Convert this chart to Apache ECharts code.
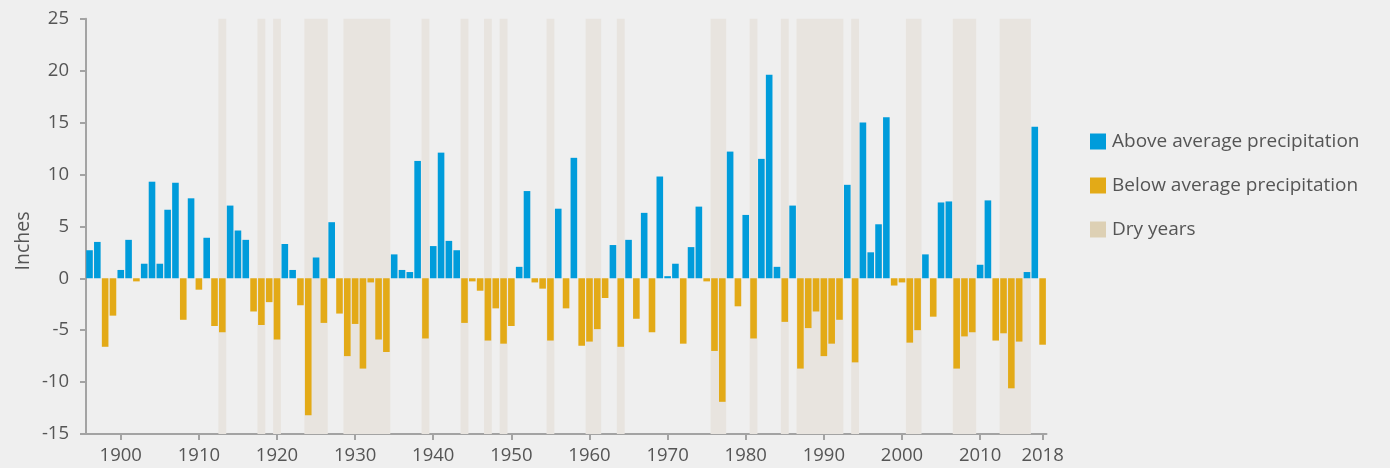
<!DOCTYPE html>
<html>
<head>
<meta charset="utf-8">
<script src="https://cdn.jsdelivr.net/npm/echarts@6/dist/echarts.min.js"></script>
<style>
  html, body { margin: 0; padding: 0; background: #efefef; }
  #chart { width: 1390px; height: 468px; }
</style>
</head>
<body>
<div id="chart"></div>
<script>
// Annual precipitation departure from average, inches, 1896-2018
const firstYear = 1896;
const precip = [
  2.7, 3.5, -6.6, -3.6,                                  // 1896-1899
  0.8, 3.7, -0.3, 1.4, 9.3, 1.4, 6.6, 9.2, -4.0, 7.7,     // 1900s
  -1.1, 3.9, -4.6, -5.2, 7.0, 4.6, 3.7, -3.2, -4.5, -2.3, // 1910s
  -5.9, 3.3, 0.8, -2.6, -13.2, 2.0, -4.3, 5.4, -3.4, -7.5,// 1920s
  -4.4, -8.7, -0.4, -5.9, -7.1, 2.3, 0.8, 0.6, 11.3, -5.8,// 1930s
  3.1, 12.1, 3.6, 2.7, -4.3, -0.3, -1.2, -6.0, -2.9, -6.3,// 1940s
  -4.6, 1.1, 8.4, -0.4, -1.0, -6.0, 6.7, -2.9, 11.6, -6.5,// 1950s
  -6.1, -4.9, -1.9, 3.2, -6.6, 3.7, -3.9, 6.3, -5.2, 9.8, // 1960s
  0.2, 1.4, -6.3, 3.0, 6.9, -0.3, -7.0, -11.9, 12.2, -2.7,// 1970s
  6.1, -5.8, 11.5, 19.6, 1.1, -4.2, 7.0, -8.7, -4.8, -3.2,// 1980s
  -7.5, -6.3, -4.0, 9.0, -8.1, 15.0, 2.5, 5.2, 15.5, -0.7,// 1990s
  -0.4, -6.2, -5.0, 2.3, -3.7, 7.3, 7.4, -8.7, -5.6, -5.2,// 2000s
  1.3, 7.5, -6.0, -5.3, -10.6, -6.1, 0.6, 14.6, -6.4      // 2010s
];

// Years classed as dry
const dryYears = [
  1913, 1918, 1920, 1924, 1925, 1926,
  1929, 1930, 1931, 1932, 1933, 1934,
  1939, 1944, 1947, 1949, 1955, 1960, 1961, 1964,
  1976, 1977, 1981, 1985,
  1987, 1988, 1989, 1990, 1991, 1992, 1994,
  2001, 2002, 2007, 2008, 2009, 2013, 2014, 2015, 2016
];

const xTickYears = [1900, 1910, 1920, 1930, 1940, 1950, 1960, 1970, 1980, 1990, 2000, 2010, 2018];

const COLOR_ABOVE = '#009cdb';
const COLOR_BELOW = '#e3aa17';
const COLOR_DRY_BAND = '#e8e4df';
const COLOR_DRY_KEY = '#ddd0b4';
const TEXT = '#555555';
const AXIS = '#a3a3a3';

const aboveData = precip.map((v, i) => [firstYear + i, v > 0 ? v : '-']);
const belowData = precip.map((v, i) => [firstYear + i, v < 0 ? v : '-']);

// merge consecutive dry years into shaded spans
const drySpans = [];
dryYears.forEach(y => {
  const last = drySpans[drySpans.length - 1];
  if (last && last[1] === y - 1) last[1] = y;
  else drySpans.push([y, y]);
});
const dryAreas = drySpans.map(([a, b]) => [{ xAxis: a - 0.5 }, { xAxis: b + 0.5 }]);

const FONT = '"Open Sans", "Noto Sans", sans-serif';

const chart = echarts.init(document.getElementById('chart'), null, { renderer: 'canvas' });
chart.setOption({
  backgroundColor: '#efefef',
  animation: false,
  textStyle: { fontFamily: FONT },
  grid: { left: 86, right: 343.5, top: 18.7, bottom: 34, containLabel: false },
  legend: {
    orient: 'vertical',
    left: 1085,
    top: 127,
    itemWidth: 16,
    itemHeight: 16,
    itemGap: 25,
    icon: 'rect',
    textStyle: { color: TEXT, fontSize: 19, fontFamily: FONT, padding: [0, 0, 0, 1] },
    data: ['Above average precipitation', 'Below average precipitation', 'Dry years']
  },
  xAxis: {
    type: 'value',
    min: firstYear - 0.45,
    max: firstYear + precip.length - 0.5,
    splitLine: { show: false },
    axisLine: { show: true, onZero: false, lineStyle: { color: AXIS, width: 2 } },
    axisTick: { show: true, length: 6, customValues: xTickYears, lineStyle: { color: AXIS, width: 2 } },
    axisLabel: {
      customValues: xTickYears,
      color: TEXT, fontSize: 18.5, fontFamily: FONT, margin: 12,
      formatter: v => String(v)
    }
  },
  yAxis: {
    type: 'value',
    min: -15,
    max: 25,
    interval: 5,
    splitLine: { show: false },
    axisLine: { show: true, onZero: false, lineStyle: { color: AXIS, width: 2 } },
    axisTick: { show: true, length: 6, lineStyle: { color: AXIS, width: 2 } },
    axisLabel: { color: TEXT, fontSize: 18.5, fontFamily: FONT, margin: 17 }
  },
  graphic: [{
    type: 'text',
    x: 23.5,
    y: 241,
    rotation: Math.PI / 2,
    style: {
      text: 'Inches', fill: TEXT, fontSize: 19.5, fontFamily: FONT,
      align: 'center', verticalAlign: 'middle'
    }
  }],
  series: [
    {
      name: 'Dry years',
      type: 'bar',
      data: [],
      itemStyle: { color: COLOR_DRY_KEY },
      markArea: {
        silent: true,
        z: 1,
        itemStyle: { color: COLOR_DRY_BAND },
        data: dryAreas
      }
    },
    {
      name: 'Above average precipitation',
      type: 'bar',
      z: 3,
      barWidth: 6.6,
      barGap: '-100%',
      itemStyle: { color: COLOR_ABOVE },
      data: aboveData
    },
    {
      name: 'Below average precipitation',
      type: 'bar',
      z: 3,
      barWidth: 6.6,
      barGap: '-100%',
      itemStyle: { color: COLOR_BELOW },
      data: belowData
    }
  ]
});
</script>
</body>
</html>
